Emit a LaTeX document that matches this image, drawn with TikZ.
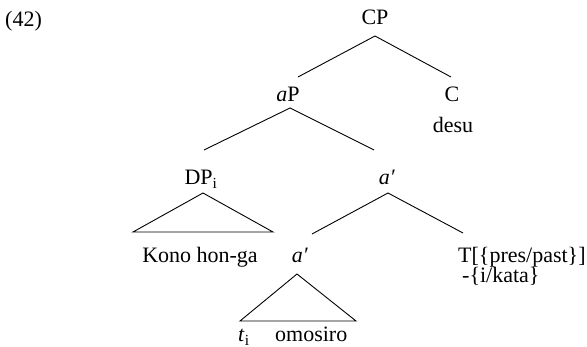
\documentclass[tikz,border=0pt]{standalone}
\usepackage{fontspec}
\setmainfont{Liberation Serif}
\begin{document}
\begin{tikzpicture}[x=1pt,y=-1pt,
  lab/.style={inner sep=0pt,anchor=base,font=\fontsize{22}{26}\selectfont},
  labw/.style={lab,anchor=base west},
  branch/.style={line width=0.9pt,line join=miter}]
\useasboundingbox (0,0) rectangle (587,347);

% labels
\node[labw] (ex)   at (5,27)    {(42)};
\node[lab]  (cp)   at (375,25)  {CP};
\node[lab]  (ap)   at (288,102) {\textit{a}P};
\node[lab]  (c)    at (452,102) {C};
\node[lab]  (desu) at (453,133) {desu};
\node[lab]  (dp)   at (201,185) {DP\textsubscript{i}};
\node[lab]  (abar) at (387,185) {\textit{a′}};
\node[lab]  (kono) at (200,263) {Kono hon-ga};
\node[lab]  (alow) at (300,263) {\textit{a′}};
\node[labw] (t)    at (458,263) {T[\{pres/past\}]};
\node[labw] (tsuf) at (462,283) {-\{i/kata\}};
\node[labw] (tr)   at (238,342) {\textit{t}\textsubscript{i}};
\node[labw] (om)   at (275,342) {omosiro};

% branch end points
\coordinate (cp-top) at (375,36);
\coordinate (ap-in)  at (298,77);
\coordinate (c-in)   at (451,77);
\coordinate (ap-top) at (290,108);
\coordinate (dp-in)  at (204,150);
\coordinate (ab-in)  at (374,150);
\coordinate (dp-top) at (203,193);
\coordinate (dp-l)   at (133,232);
\coordinate (dp-r)   at (273,232);
\coordinate (ab-top) at (388,193);
\coordinate (al-in)  at (312,234);
\coordinate (t-in)   at (463,233);
\coordinate (al-top) at (297,274);
\coordinate (al-l)   at (240,321);
\coordinate (al-r)   at (356,321);

% branches
\draw[branch] (ap-in) -- (cp-top) -- (c-in);
\draw[branch] (dp-in) -- (ap-top) -- (ab-in);
\draw[branch] (dp-top) -- (dp-l) -- (dp-r) -- cycle;
\draw[branch] (al-in) -- (ab-top) -- (t-in);
\draw[branch] (al-top) -- (al-l) -- (al-r) -- cycle;
\end{tikzpicture}
\end{document}
